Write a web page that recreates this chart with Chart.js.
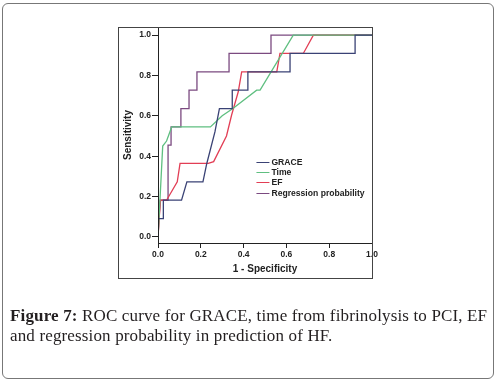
<!DOCTYPE html>
<html>
<head>
<meta charset="utf-8">
<script src="https://cdn.jsdelivr.net/npm/chart.js@4.4.1/dist/chart.umd.min.js"></script>
<style>
  body { margin: 0; background: #fff; }
  #wrap { position: relative; width: 497px; height: 383px; overflow: hidden; }
  #rocCanvas { position: absolute; left: 0; top: 0; }
  #frame { position: absolute; left: 2px; top: 3px; width: 490px; height: 374px;
           border: 1px solid #777; border-radius: 6px; }
  #caption { position: absolute; left: 10px; top: 306px; font-family: "Liberation Serif", "DejaVu Serif", serif;
             font-size: 17px; letter-spacing: 0.15px; line-height: 20px; color: #231f20; white-space: nowrap; }
</style>
</head>
<body>
<div id="wrap">
  <div id="frame"></div>
  <canvas id="rocCanvas" width="497" height="383"></canvas>
  <div id="caption"><b>Figure 7:</b> ROC curve for GRACE, time from fibrinolysis to PCI, EF<br>and regression probability in prediction of HF.</div>
</div>
<script>
// 1 - specificity / sensitivity pairs
var graceFpr = [0, 0, 0.025, 0.025, 0.11, 0.135, 0.21, 0.228, 0.266, 0.287, 0.347, 0.347, 0.42, 0.42, 0.617, 0.617, 0.921, 0.921, 1];
var graceTpr = [0, 0.091, 0.091, 0.182, 0.182, 0.273, 0.273, 0.364, 0.52, 0.636, 0.636, 0.727, 0.727, 0.818, 0.818, 0.909, 0.909, 1, 1];

var timeFpr = [0, 0.005, 0.01, 0.022, 0.04, 0.064, 0.245, 0.3, 0.35, 0.461, 0.477, 0.632, 1];
var timeTpr = [0, 0.1, 0.2, 0.45, 0.475, 0.545, 0.545, 0.6, 0.636, 0.727, 0.727, 1, 1];

var efFpr = [0, 0.006, 0.012, 0.04, 0.09, 0.103, 0.235, 0.26, 0.32, 0.344, 0.375, 0.391, 0.555, 0.57, 0.679, 0.726, 1];
var efTpr = [0, 0.1, 0.182, 0.182, 0.273, 0.364, 0.364, 0.373, 0.5, 0.604, 0.719, 0.818, 0.818, 0.909, 0.909, 1, 1];

var regFpr = [0, 0.005, 0.01, 0.047, 0.047, 0.061, 0.061, 0.107, 0.107, 0.145, 0.145, 0.182, 0.182, 0.332, 0.332, 0.528, 0.528, 1];
var regTpr = [0, 0.091, 0.182, 0.182, 0.455, 0.455, 0.545, 0.545, 0.636, 0.636, 0.727, 0.727, 0.818, 0.818, 0.909, 0.909, 1, 1];

var seriesNames = ['GRACE', 'Time', 'EF', 'Regression probability'];
var seriesColors = ['#3a4275', '#5fbf80', '#e23e55', '#7b4a80'];
var xTicks = [0, 0.2, 0.4, 0.6, 0.8, 1.0];
var yTicks = [0, 0.2, 0.4, 0.6, 0.8, 1.0];

function toPoints(xs, ys) {
    return xs.map(function (x, i) { return { x: x, y: ys[i] }; });
}

var allFpr = [graceFpr, timeFpr, efFpr, regFpr];
var allTpr = [graceTpr, timeTpr, efTpr, regTpr];

var datasets = seriesNames.map(function (name, i) {
    return {
        label: name,
        data: toPoints(allFpr[i], allTpr[i]),
        borderColor: seriesColors[i],
        backgroundColor: seriesColors[i],
        borderWidth: 1.3,
        pointRadius: 0,
        showLine: true,
        tension: 0,
        fill: false
    };
});

// boxes around the plot and around the whole SPSS figure
const boxPlugin = {
    id: 'boxes',
    afterDraw(chart) {
        const ctx = chart.ctx;
        const a = chart.chartArea;
        const ys = chart.scales.y, xs = chart.scales.x;
        ctx.save();
        ctx.strokeStyle = '#222';
        ctx.lineWidth = 1;
        ctx.strokeRect(Math.round(a.left) + 0.5, Math.round(a.top) + 0.5, Math.round(a.right - a.left), Math.round(a.bottom - a.top));
        ctx.strokeStyle = '#444';
        ctx.strokeRect(Math.round(ys.left) + 0.5, Math.round(a.top) + 0.5, Math.round(a.right - ys.left), Math.round(xs.bottom - a.top));
        ctx.restore();
    }
};

// legend sitting inside the plot, like the SPSS output
const innerLegend = {
    id: 'innerLegend',
    afterDraw(chart) {
        const ctx = chart.ctx;
        const a = chart.chartArea;
        const x0 = a.left + (a.right - a.left) * 0.46;
        const y0 = a.top + (a.bottom - a.top) * 0.624;
        ctx.save();
        ctx.font = 'bold 8.6px "Liberation Sans", Arial, sans-serif';
        ctx.textBaseline = 'middle';
        chart.data.datasets.forEach(function (ds, i) {
            const y = Math.round(y0 + i * 10.3) + 0.5;
            ctx.strokeStyle = ds.borderColor;
            ctx.lineWidth = 1;
            ctx.beginPath();
            ctx.moveTo(x0, y);
            ctx.lineTo(x0 + 13, y);
            ctx.stroke();
            ctx.fillStyle = '#222';
            ctx.fillText(ds.label, x0 + 15, y + 0.5);
        });
        ctx.restore();
    }
};

new Chart(document.getElementById('rocCanvas'), {
    type: 'scatter',
    data: { datasets: datasets },
    options: {
        responsive: false,
        animation: false,
        layout: { padding: { left: 118, right: 125, top: 27, bottom: 105 } },
        plugins: { legend: { display: false }, tooltip: { enabled: false } },
        scales: {
            x: {
                type: 'linear',
                min: 0,
                max: 1,
                afterBuildTicks: function (s) { s.ticks = xTicks.map(function (v) { return { value: v }; }); },
                afterFit: function (s) { s.height = 35; },
                grid: { display: true, drawOnChartArea: false, drawTicks: true, tickLength: 5, color: '#222' },
                border: { display: true, color: '#222' },
                ticks: {
                    padding: 2,
                    color: '#222',
                    font: { family: '"Liberation Sans", Arial, sans-serif', size: 8.5, weight: 'bold' },
                    maxRotation: 0,
                    callback: function (v) { return Number(v).toFixed(1); }
                },
                title: {
                    display: true,
                    text: '1 - Specificity',
                    color: '#222',
                    font: { family: '"Liberation Sans", Arial, sans-serif', size: 10, weight: 'bold' },
                    padding: { top: 0, bottom: 3 }
                }
            },
            y: {
                type: 'linear',
                min: -0.03,
                max: 1.04,
                afterBuildTicks: function (s) { s.ticks = yTicks.map(function (v) { return { value: v }; }); },
                afterFit: function (s) { s.width = 40; },
                grid: { display: true, drawOnChartArea: false, drawTicks: true, tickLength: 6, color: '#222' },
                border: { display: true, color: '#222' },
                ticks: {
                    padding: 1,
                    color: '#222',
                    font: { family: '"Liberation Sans", Arial, sans-serif', size: 8.5, weight: 'bold' },
                    callback: function (v) { return Number(v).toFixed(1); }
                },
                title: {
                    display: true,
                    text: 'Sensitivity',
                    color: '#222',
                    font: { family: '"Liberation Sans", Arial, sans-serif', size: 10, weight: 'bold' },
                    padding: { top: 4, bottom: 0 }
                }
            }
        }
    },
    plugins: [boxPlugin, innerLegend]
});
</script>
</body>
</html>
